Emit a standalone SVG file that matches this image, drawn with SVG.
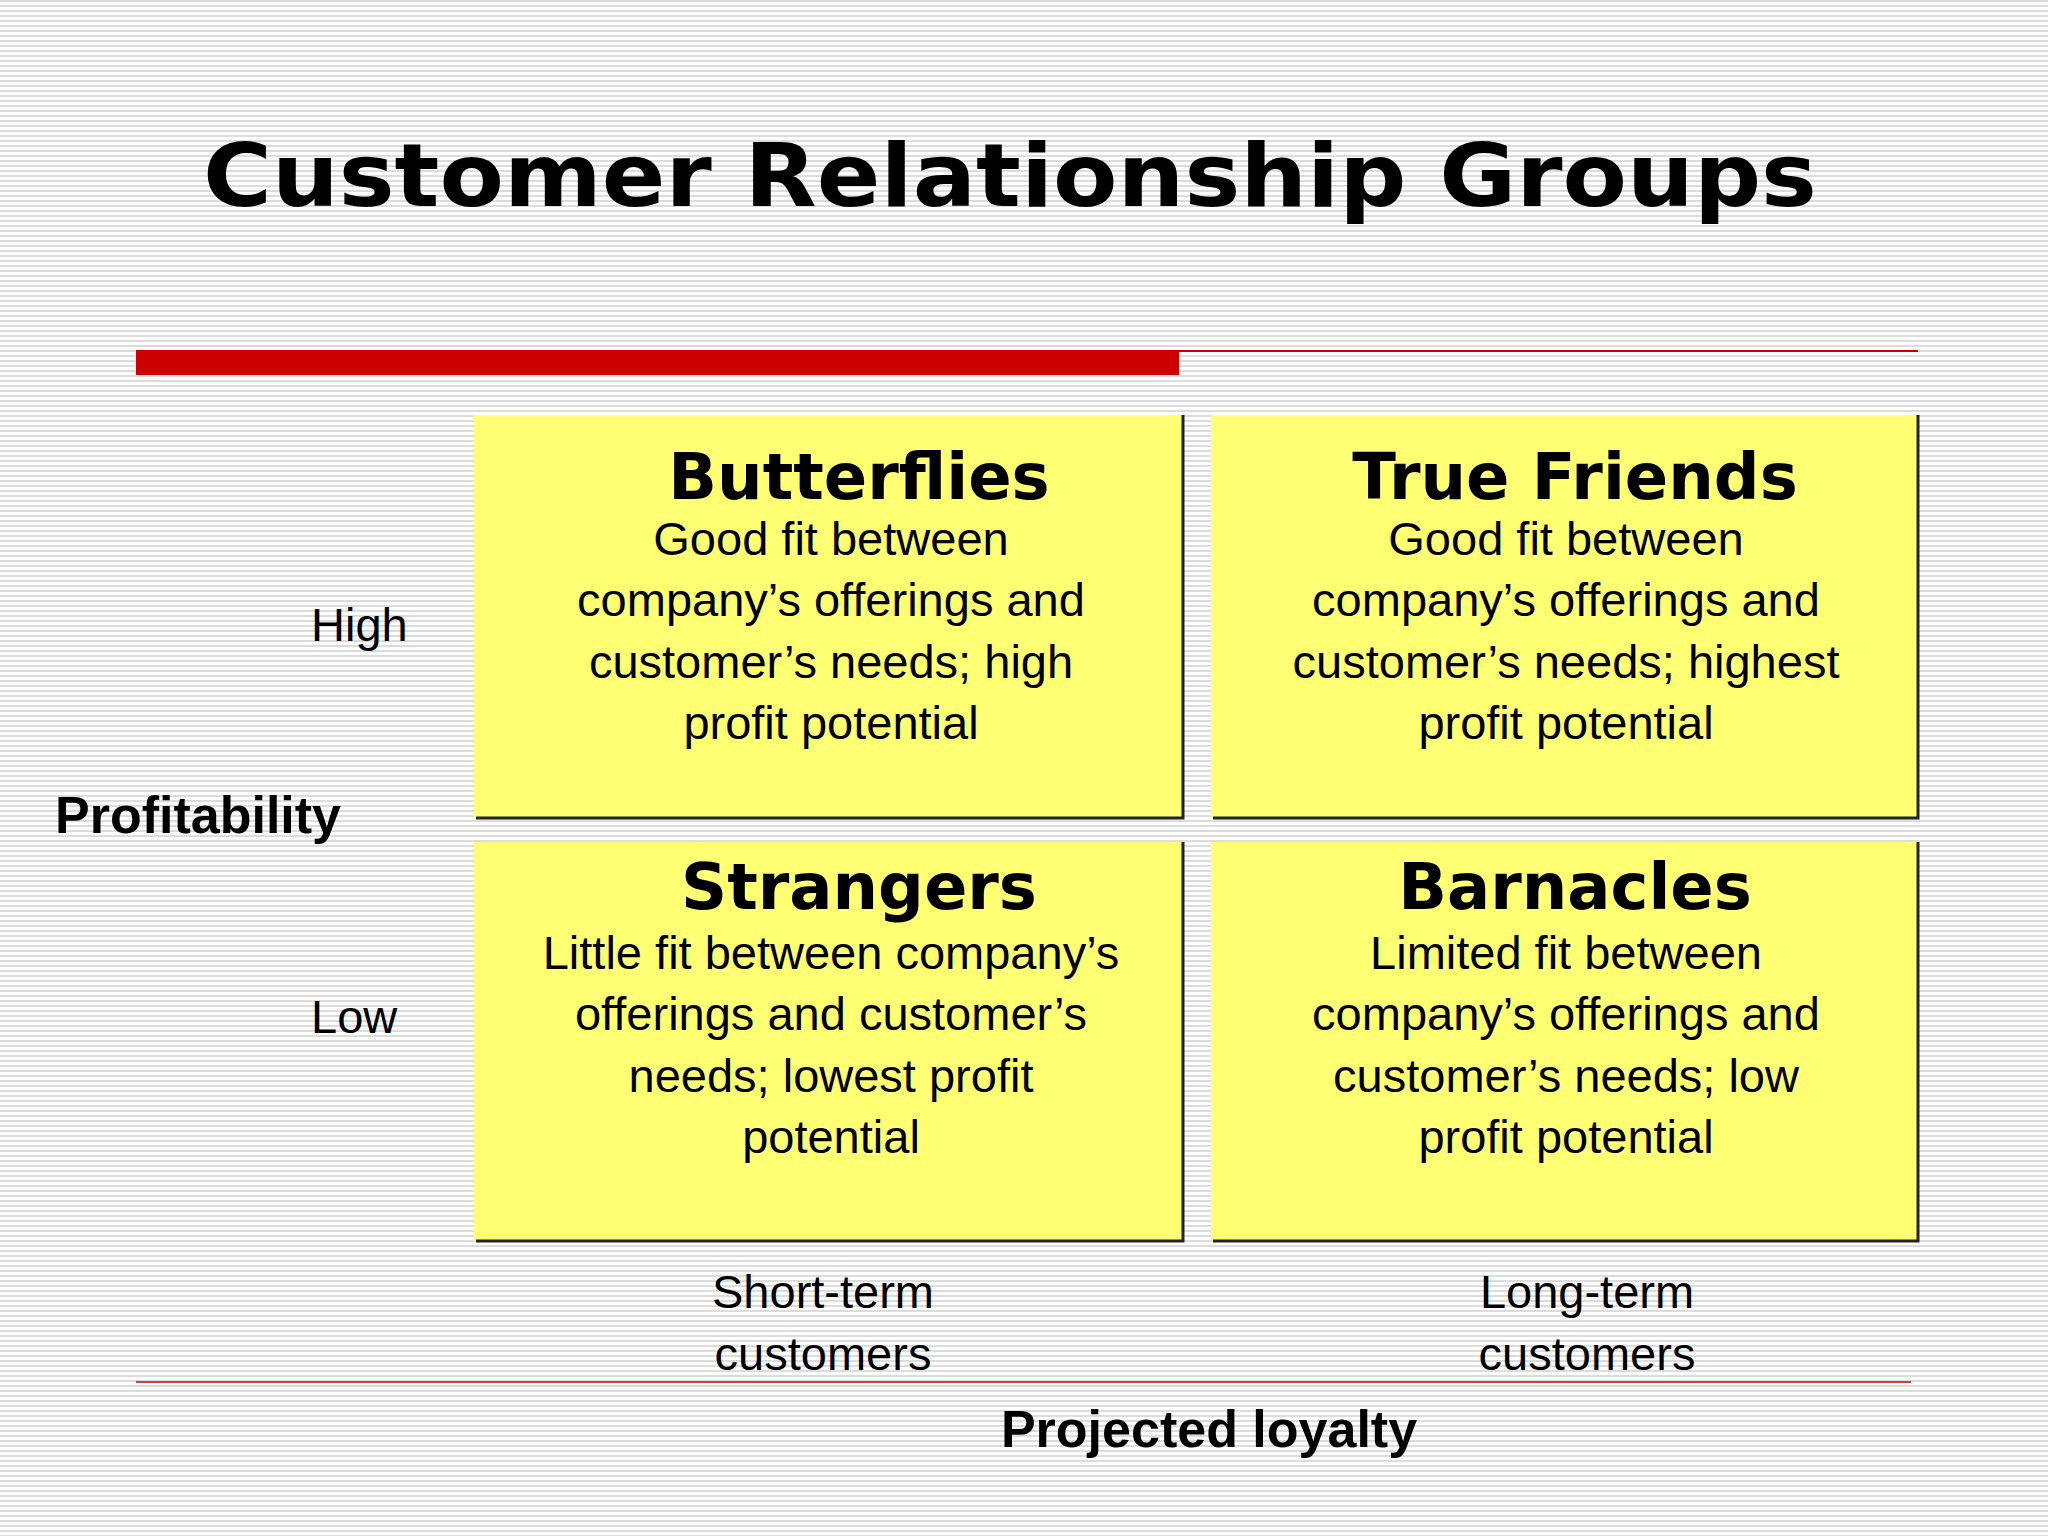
<svg xmlns="http://www.w3.org/2000/svg" width="2048" height="1536" viewBox="0 0 2048 1536">
<defs>
<pattern id="stripes" width="8" height="5" patternUnits="userSpaceOnUse">
<rect width="8" height="5" fill="#ffffff"/>
<rect y="0" width="8" height="2" fill="#dcdcdc"/>
</pattern>
</defs>
<style>
.box{fill:#ffff73;}
.edge{stroke:#222;stroke-width:3;fill:none;}
.ttl{font-family:"DejaVu Sans",Verdana,sans-serif;font-weight:bold;font-size:64px;text-anchor:middle;fill:#000;}
.body{font-family:"Liberation Sans",Arial,sans-serif;font-size:47px;text-anchor:middle;fill:#000;}
.lbl{font-family:"Liberation Sans",Arial,sans-serif;font-size:47px;fill:#000;}
.bold{font-family:"Liberation Sans",Arial,sans-serif;font-weight:bold;font-size:52px;fill:#000;}
</style>
<rect width="2048" height="1536" fill="url(#stripes)"/>
<text x="1010" y="206" font-family="DejaVu Sans,Verdana,sans-serif" font-weight="bold" font-size="88" text-anchor="middle" textLength="1614" lengthAdjust="spacingAndGlyphs">Customer Relationship Groups</text>
<rect x="136" y="350" width="1043" height="25" fill="#cc0000"/>
<line x1="1179" y1="351" x2="1918" y2="351" stroke="#cc0000" stroke-width="2"/>
<g id="butterflies">
<rect class="box" x="474" y="415" width="709" height="403"/>
<polyline class="edge" points="1183,415 1183,818 476,818"/>
<text class="ttl" x="859" y="499">Butterflies</text>
<text class="body"><tspan x="831" y="555">Good fit between</tspan><tspan x="831" y="616">company’s offerings and</tspan><tspan x="831" y="678">customer’s needs; high</tspan><tspan x="831" y="739">profit potential</tspan></text>
</g>
<g id="truefriends">
<rect class="box" x="1211" y="415" width="707" height="403"/>
<polyline class="edge" points="1918,415 1918,818 1213,818"/>
<text class="ttl" x="1575" y="499">True Friends</text>
<text class="body"><tspan x="1566" y="555">Good fit between</tspan><tspan x="1566" y="616">company’s offerings and</tspan><tspan x="1566" y="678">customer’s needs; highest</tspan><tspan x="1566" y="739">profit potential</tspan></text>
</g>
<g id="strangers">
<rect class="box" x="474" y="842" width="709" height="399"/>
<polyline class="edge" points="1183,842 1183,1241 476,1241"/>
<text class="ttl" x="859" y="909">Strangers</text>
<text class="body"><tspan x="831" y="969">Little fit between company’s</tspan><tspan x="831" y="1030">offerings and customer’s</tspan><tspan x="831" y="1092">needs; lowest profit</tspan><tspan x="831" y="1153">potential</tspan></text>
</g>
<g id="barnacles">
<rect class="box" x="1211" y="842" width="707" height="399"/>
<polyline class="edge" points="1918,842 1918,1241 1213,1241"/>
<text class="ttl" x="1575" y="909">Barnacles</text>
<text class="body"><tspan x="1566" y="969">Limited fit between</tspan><tspan x="1566" y="1030">company’s offerings and</tspan><tspan x="1566" y="1092">customer’s needs; low</tspan><tspan x="1566" y="1153">profit potential</tspan></text>
</g>
<text class="lbl" x="311" y="641">High</text>
<text class="lbl" x="311" y="1033">Low</text>
<text class="bold" x="55" y="833">Profitability</text>
<text class="body"><tspan x="823" y="1308">Short-term</tspan><tspan x="823" y="1370">customers</tspan></text>
<text class="body"><tspan x="1587" y="1308">Long-term</tspan><tspan x="1587" y="1370">customers</tspan></text>
<line x1="136" y1="1382" x2="1911" y2="1382" stroke="#cc0000" stroke-width="1.5"/>
<text class="bold" x="1209" y="1447" text-anchor="middle">Projected loyalty</text>
</svg>
